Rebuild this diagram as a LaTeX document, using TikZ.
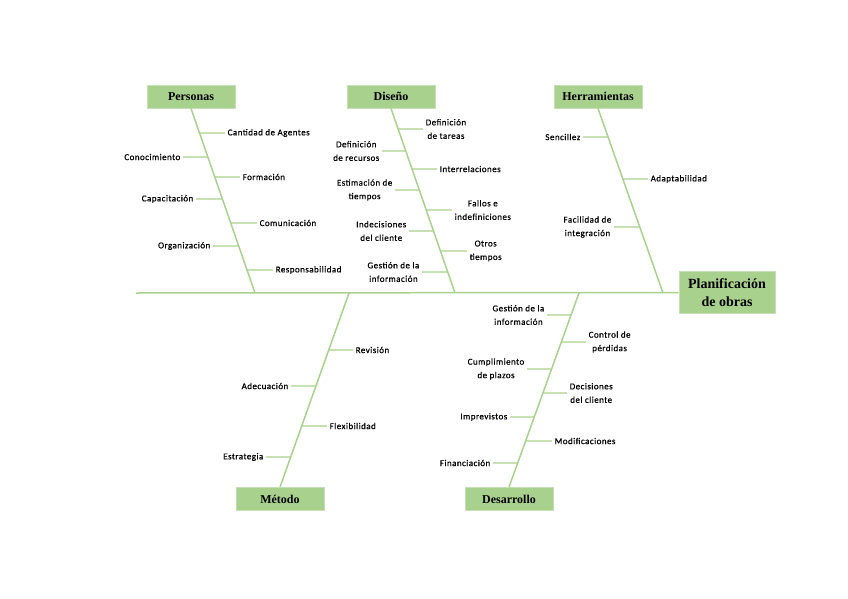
\documentclass[tikz,border=0pt]{standalone}
\usepackage{fontspec}
\setmainfont{Liberation Serif}
\newfontfamily\labelfont[LetterSpace=5,FakeBold=0.6]{Carlito}
\usepackage{tikz}
\usetikzlibrary{positioning, calc}
\definecolor{bonegreen}{HTML}{A9D18E}
\definecolor{boxedge}{HTML}{C5E0B4}

\begin{document}
\begin{tikzpicture}[
    x=1pt, y=-1pt,
    every node/.style={font=\labelfont\fontsize{9}{13.5}\selectfont},
    catbox/.style={draw=boxedge, fill=bonegreen, line width=0.8pt, minimum width=88pt, minimum height=23pt, inner sep=1pt, font=\bfseries\fontsize{12}{13}\selectfont},
    bone/.style={draw=bonegreen, line width=1.5pt},
    rib/.style={draw=bonegreen, line width=1.2pt},
    lbl/.style={align=center, inner sep=2.5pt}
]
    \useasboundingbox (0,0) rectangle (848,599);

    % Head and spine
    \node[catbox, minimum width=96pt, minimum height=42pt, align=center, font=\bfseries\fontsize{14}{17.5}\selectfont] (plan) at (727,292.5) {Planificaci\'on\\de obras};
    \coordinate (tail) at (136,293);
    \draw[bone] (tail) -- (plan.west);

    % Category boxes
    \node[catbox] (pers) at (191,96.5) {Personas};
    \node[catbox] (dise) at (391,96.5) {Dise\~no};
    \node[catbox] (herr) at (598,96.5) {Herramientas};
    \node[catbox] (meto) at (280,499) {M\'etodo};
    \node[catbox] (desa) at (509,499) {Desarrollo};

    % Points on the spine
    \coordinate (pers-sp) at (255,293);
    \coordinate (dise-sp) at (455,293);
    \coordinate (herr-sp) at (663,293);
    \coordinate (meto-sp) at (349,293);
    \coordinate (desa-sp) at (579,293);

    % Main bones
    \draw[bone] (pers.south) -- (pers-sp);
    \draw[bone] (dise.south) -- (dise-sp);
    \draw[bone] (herr.south) -- (herr-sp);
    \draw[bone] (meto.north) -- (meto-sp);
    \draw[bone] (desa.north) -- (desa-sp);

    % Personas
    \node[lbl, anchor=west] (pe1) at (225,133) {Cantidad de Agentes};
    \node[lbl, anchor=east] (pe2) at (183,157) {Conocimiento};
    \node[lbl, anchor=west] (pe3) at (240,177) {Formaci\'on};
    \node[lbl, anchor=east] (pe4) at (196,199) {Capacitaci\'on};
    \node[lbl, anchor=west] (pe5) at (257,223) {Comunicaci\'on};
    \node[lbl, anchor=east] (pe6) at (213,246) {Organizaci\'on};
    \node[lbl, anchor=west] (pe7) at (273,270) {Responsabilidad};
    \draw[rib] (pe1.west) -- (intersection of pers.south--pers-sp and pe1.west--pe1.east);
    \draw[rib] (pe2.east) -- (intersection of pers.south--pers-sp and pe2.east--pe2.west);
    \draw[rib] (pe3.west) -- (intersection of pers.south--pers-sp and pe3.west--pe3.east);
    \draw[rib] (pe4.east) -- (intersection of pers.south--pers-sp and pe4.east--pe4.west);
    \draw[rib] (pe5.west) -- (intersection of pers.south--pers-sp and pe5.west--pe5.east);
    \draw[rib] (pe6.east) -- (intersection of pers.south--pers-sp and pe6.east--pe6.west);
    \draw[rib] (pe7.west) -- (intersection of pers.south--pers-sp and pe7.west--pe7.east);

    % Diseno
    \node[lbl, anchor=west] (di1) at (423,129) {Definici\'on\\de tareas};
    \node[lbl, anchor=east] (di2) at (382,151) {Definici\'on\\de recursos};
    \node[lbl, anchor=west] (di3) at (437,169) {Interrelaciones};
    \node[lbl, anchor=east] (di4) at (395,190) {Estimaci\'on de\\tiempos};
    \node[lbl, anchor=west] (di5) at (452,210) {Fallos e\\indefiniciones};
    \node[lbl, anchor=east] (di6) at (409,231) {Indecisiones\\del cliente};
    \node[lbl, anchor=west] (di7) at (467,251) {Otros\\tiempos};
    \node[lbl, anchor=east] (di8) at (422,272) {Gesti\'on de la\\informaci\'on};
    \draw[rib] (di1.west) -- (intersection of dise.south--dise-sp and di1.west--di1.east);
    \draw[rib] (di2.east) -- (intersection of dise.south--dise-sp and di2.east--di2.west);
    \draw[rib] (di3.west) -- (intersection of dise.south--dise-sp and di3.west--di3.east);
    \draw[rib] (di4.east) -- (intersection of dise.south--dise-sp and di4.east--di4.west);
    \draw[rib] (di5.west) -- (intersection of dise.south--dise-sp and di5.west--di5.east);
    \draw[rib] (di6.east) -- (intersection of dise.south--dise-sp and di6.east--di6.west);
    \draw[rib] (di7.west) -- (intersection of dise.south--dise-sp and di7.west--di7.east);
    \draw[rib] (di8.east) -- (intersection of dise.south--dise-sp and di8.east--di8.west);

    % Herramientas
    \node[lbl, anchor=east] (he1) at (583,137) {Sencillez};
    \node[lbl, anchor=west] (he2) at (648,179) {Adaptabilidad};
    \node[lbl, anchor=east] (he3) at (614,227) {Facilidad de\\integraci\'on};
    \draw[rib] (he1.east) -- (intersection of herr.south--herr-sp and he1.east--he1.west);
    \draw[rib] (he2.west) -- (intersection of herr.south--herr-sp and he2.west--he2.east);
    \draw[rib] (he3.east) -- (intersection of herr.south--herr-sp and he3.east--he3.west);

    % Metodo
    \node[lbl, anchor=west] (me1) at (353,350) {Revisi\'on};
    \node[lbl, anchor=east] (me2) at (291,386) {Adecuaci\'on};
    \node[lbl, anchor=west] (me3) at (327,426) {Flexibilidad};
    \node[lbl, anchor=east] (me4) at (266,457) {Estrategia};
    \draw[rib] (me1.west) -- (intersection of meto.north--meto-sp and me1.west--me1.east);
    \draw[rib] (me2.east) -- (intersection of meto.north--meto-sp and me2.east--me2.west);
    \draw[rib] (me3.west) -- (intersection of meto.north--meto-sp and me3.west--me3.east);
    \draw[rib] (me4.east) -- (intersection of meto.north--meto-sp and me4.east--me4.west);

    % Desarrollo
    \node[lbl, anchor=east] (de1) at (547,315) {Gesti\'on de la\\informaci\'on};
    \node[lbl, anchor=west] (de2) at (586,342) {Control de\\p\'erdidas};
    \node[lbl, anchor=east] (de3) at (527,369) {Cumplimiento\\de plazos};
    \node[lbl, anchor=west] (de4) at (567,393) {Decisiones\\del cliente};
    \node[lbl, anchor=east] (de5) at (510,417) {Imprevistos};
    \node[lbl, anchor=west] (de6) at (552,441) {Modificaciones};
    \node[lbl, anchor=east] (de7) at (493,463) {Financiaci\'on};
    \draw[rib] (de1.east) -- (intersection of desa.north--desa-sp and de1.east--de1.west);
    \draw[rib] (de2.west) -- (intersection of desa.north--desa-sp and de2.west--de2.east);
    \draw[rib] (de3.east) -- (intersection of desa.north--desa-sp and de3.east--de3.west);
    \draw[rib] (de4.west) -- (intersection of desa.north--desa-sp and de4.west--de4.east);
    \draw[rib] (de5.east) -- (intersection of desa.north--desa-sp and de5.east--de5.west);
    \draw[rib] (de6.west) -- (intersection of desa.north--desa-sp and de6.west--de6.east);
    \draw[rib] (de7.east) -- (intersection of desa.north--desa-sp and de7.east--de7.west);
\end{tikzpicture}
\end{document}
